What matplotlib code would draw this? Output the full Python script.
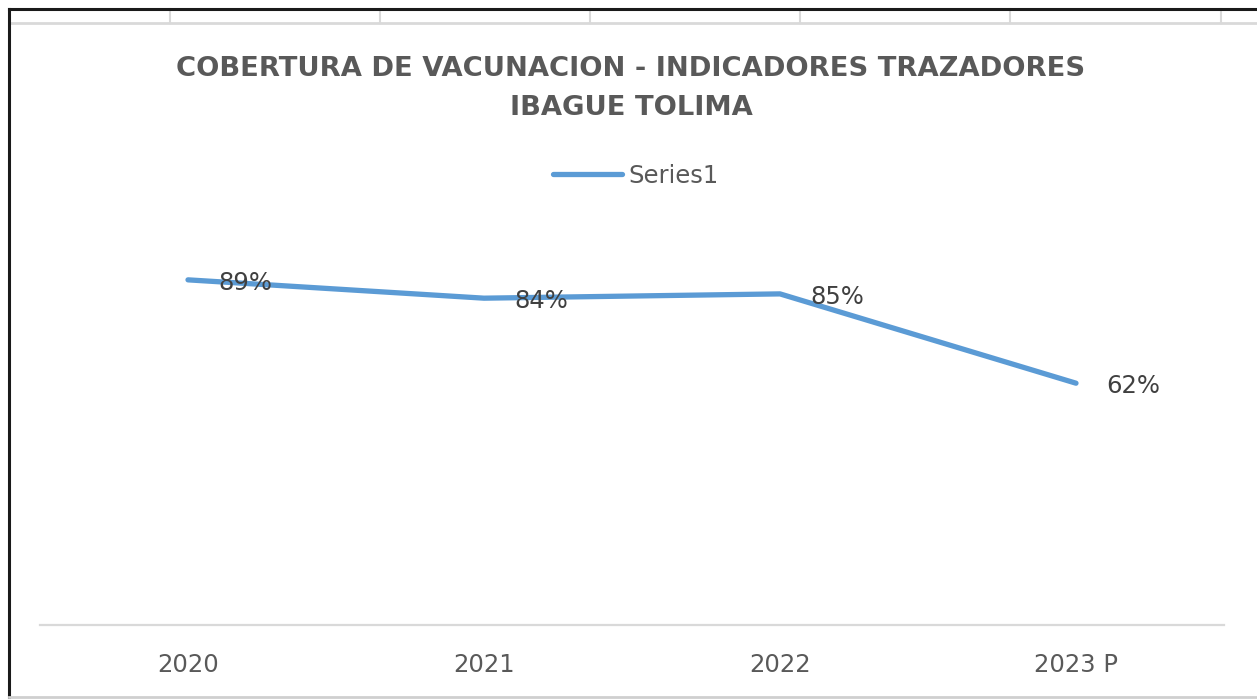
import matplotlib

matplotlib.use("Agg")
import matplotlib.pyplot as plt
from matplotlib.lines import Line2D

# data
CATEGORIES = ["2020", "2021", "2022", "2023 P"]
COVERAGE = [0.885, 0.838, 0.849, 0.62]
LABELS = ["89%", "84%", "85%", "62%"]
SERIES_NAME = "Series1"
TITLE_1 = "COBERTURA DE VACUNACION - INDICADORES TRAZADORES"
TITLE_2 = "IBAGUE TOLIMA"

W, H = 1257, 700
BLUE = "#5B9BD5"
GRID = "#D9D9D9"

plt.rcParams["font.family"] = ["DejaVu Sans"]


def fx(px):
    return px / W


def fy(py):
    # py measured from the top of the picture
    return 1 - py / H


fig = plt.figure(figsize=(W / 100, H / 100), dpi=100)
fig.patch.set_facecolor("white")

# spreadsheet strip above the chart frame
for x in [170, 380, 590, 800, 1010, 1221]:
    fig.add_artist(Line2D([fx(x), fx(x)], [fy(9), fy(23)], color=GRID, lw=1.5))
fig.add_artist(Line2D([fx(9), 1], [fy(23), fy(23)], color=GRID, lw=2))

# chart frame
fig.add_artist(Line2D([fx(9), 1], [fy(9), fy(9)], color="#1a1a1a", lw=2.2))
fig.add_artist(Line2D([fx(9), fx(9)], [fy(9), fy(697)], color="#1a1a1a", lw=2.2))
fig.add_artist(Line2D([fx(9), 1], [fy(697), fy(697)], color="#cfcfcf", lw=2))

ax = fig.add_axes([fx(40), fy(625), fx(1224 - 40), (625 - 235) / H])
x = list(range(len(CATEGORIES)))
ax.plot(x, COVERAGE, color=BLUE, lw=3.8, solid_capstyle="round",
        solid_joinstyle="round", label=SERIES_NAME)
for xi, yi, lab in zip(x, COVERAGE, LABELS):
    ax.annotate(lab, (xi, yi), xytext=(22, -2), textcoords="offset points",
                ha="left", va="center", fontsize=17.5, color="#404040")

ax.set_xlim(-0.5, 3.5)
ax.set_ylim(0, 1.0)
ax.set_xticks(x)
ax.set_xticklabels(CATEGORIES, fontsize=17.5, color="#595959")
ax.set_yticks([])
ax.tick_params(axis="x", length=0, pad=20)
for side in ["top", "left", "right"]:
    ax.spines[side].set_visible(False)
ax.spines["bottom"].set_color(GRID)
ax.spines["bottom"].set_linewidth(1.6)

fig.text(fx(631), fy(69), TITLE_1, ha="center", va="center",
         fontsize=19.7, fontweight="bold", color="#595959")
fig.text(fx(631), fy(108), TITLE_2, ha="center", va="center",
         fontsize=19.7, fontweight="bold", color="#595959")

fig.legend(loc="center", bbox_to_anchor=(fx(636), fy(176)), frameon=False,
           fontsize=17.5, handlelength=2.85, handletextpad=0.25,
           labelcolor="#595959")

fig.savefig("out.png", dpi=100, facecolor="white")
